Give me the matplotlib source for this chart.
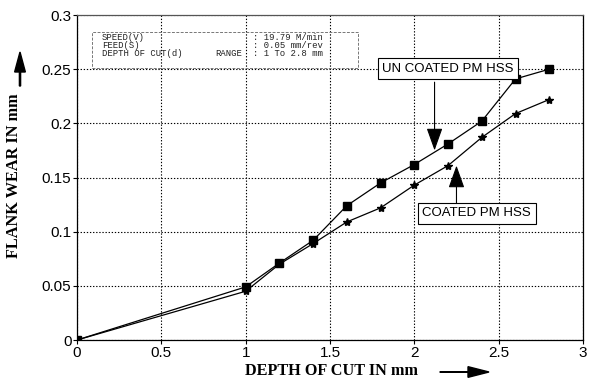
import matplotlib
matplotlib.use("Agg")
import matplotlib.pyplot as plt

depth = [0, 1.0, 1.2, 1.4, 1.6, 1.8, 2.0, 2.2, 2.4, 2.6, 2.8]
uncoated = [0, 0.049, 0.071, 0.092, 0.124, 0.145, 0.162, 0.181, 0.202, 0.241, 0.250]
coated = [0, 0.045, 0.070, 0.089, 0.109, 0.122, 0.143, 0.161, 0.187, 0.209, 0.222]
xticks = [0, 0.5, 1, 1.5, 2, 2.5, 3]
yticks = [0, 0.05, 0.1, 0.15, 0.2, 0.25, 0.3]
ytick_labels = ["0", "0.05", "0.1", "0.15", "0.2", "0.25", "0.3"]
xtick_labels = ["0", "0.5", "1", "1.5", "2", "2.5", "3"]

fig = plt.figure(figsize=(5.97, 3.81), dpi=100)
ax = fig.add_axes([0.129, 0.1076, 0.8475, 0.853])

ax.plot(depth, uncoated, color="black", lw=0.9, marker="s", ms=5.5,
        markerfacecolor="black", zorder=3)
ax.plot(depth, coated, color="black", lw=0.9, marker="*", ms=6,
        markerfacecolor="black", zorder=3)

ax.set_xlim(0, 3)
ax.set_ylim(0, 0.3)
ax.set_xticks(xticks)
ax.set_xticklabels(xtick_labels)
ax.set_yticks(yticks)
ax.set_yticklabels(ytick_labels)
ax.tick_params(direction="out", length=3, width=0.8, labelsize=11, pad=1)
for lab in ax.get_xticklabels() + ax.get_yticklabels():
    lab.set_fontfamily("Liberation Sans")
ax.grid(True, color="black", linestyle=(0, (1.2, 1.6)), linewidth=0.8)
for s in ax.spines.values():
    s.set_linewidth(0.9)
ax.spines["top"].set_color("#555555")

ax.set_xlabel("DEPTH OF CUT IN mm", fontfamily="Liberation Serif",
              fontweight="bold", fontsize=11.7)
ax.set_ylabel("FLANK WEAR IN mm", fontfamily="Liberation Serif",
              fontweight="bold", fontsize=11.7)
ax.xaxis.set_label_coords(0.502, -0.072)
ax.yaxis.set_label_coords(-0.108, 0.505)

# axis label arrows (figure coords)
fig.patches.append(matplotlib.patches.FancyArrow(
    440 / 597, 1 - 372 / 381, 49 / 597, 0, width=0.0015, head_width=0.028,
    head_length=21 / 597, length_includes_head=True, color="black",
    transform=fig.transFigure, figure=fig))
fig.patches.append(matplotlib.patches.FancyArrow(
    20 / 597, 1 - 86 / 381, 0, 34 / 381, width=0.002, head_width=0.018,
    head_length=20 / 381, length_includes_head=True, color="black",
    transform=fig.transFigure, figure=fig))

# info box
fig.patches.append(matplotlib.patches.Rectangle(
    (92 / 597, 1 - 68 / 381), 266 / 597, 36 / 381, fill=False,
    edgecolor="#777777", linestyle=(0, (3, 1.5)), linewidth=0.7,
    transform=fig.transFigure, figure=fig, zorder=5))
info_left = ["SPEED(V)", "FEED(S)", "DEPTH OF CUT(d)"]
info_right = [": 19.79 M/min", ": 0.05 mm/rev", ": 1 To 2.8 mm"]
for i, (l, r) in enumerate(zip(info_left, info_right)):
    y = 1 - (37 + 8.4 * i) / 381
    fig.text(102 / 597, y, l, fontfamily="Liberation Mono", fontsize=6.4,
             va="center", ha="left", color="#222222")
    fig.text(253 / 597, y, r, fontfamily="Liberation Mono", fontsize=6.4,
             va="center", ha="left", color="#222222")
fig.text(215 / 597, 1 - (37 + 16.8) / 381, "RANGE", fontfamily="Liberation Mono",
         fontsize=6.4, va="center", ha="left", color="#222222")

# callouts
arrow_style = "-|>,head_length=1.4,head_width=0.5"
ax.annotate("", xy=(2.12, 0.175), xytext=(2.12, 0.238),
            arrowprops=dict(arrowstyle=arrow_style, color="black", lw=0.8,
                            facecolor="#333333", shrinkA=0, shrinkB=0), zorder=6)
ax.text(2.2, 0.2505, "UN COATED PM HSS", fontfamily="Liberation Sans",
        fontsize=9.5, ha="center", va="center", zorder=7,
        bbox=dict(boxstyle="square,pad=0.35", facecolor="white",
                  edgecolor="black", linewidth=0.8))
ax.annotate("", xy=(2.25, 0.161), xytext=(2.25, 0.126),
            arrowprops=dict(arrowstyle=arrow_style, color="black", lw=0.8,
                            facecolor="#333333", shrinkA=0, shrinkB=0), zorder=6)
ax.text(2.37, 0.117, "COATED PM HSS", fontfamily="Liberation Sans",
        fontsize=9.5, ha="center", va="center", zorder=7,
        bbox=dict(boxstyle="square,pad=0.35", facecolor="white",
                  edgecolor="black", linewidth=0.8))

fig.savefig("out.png", dpi=100)
